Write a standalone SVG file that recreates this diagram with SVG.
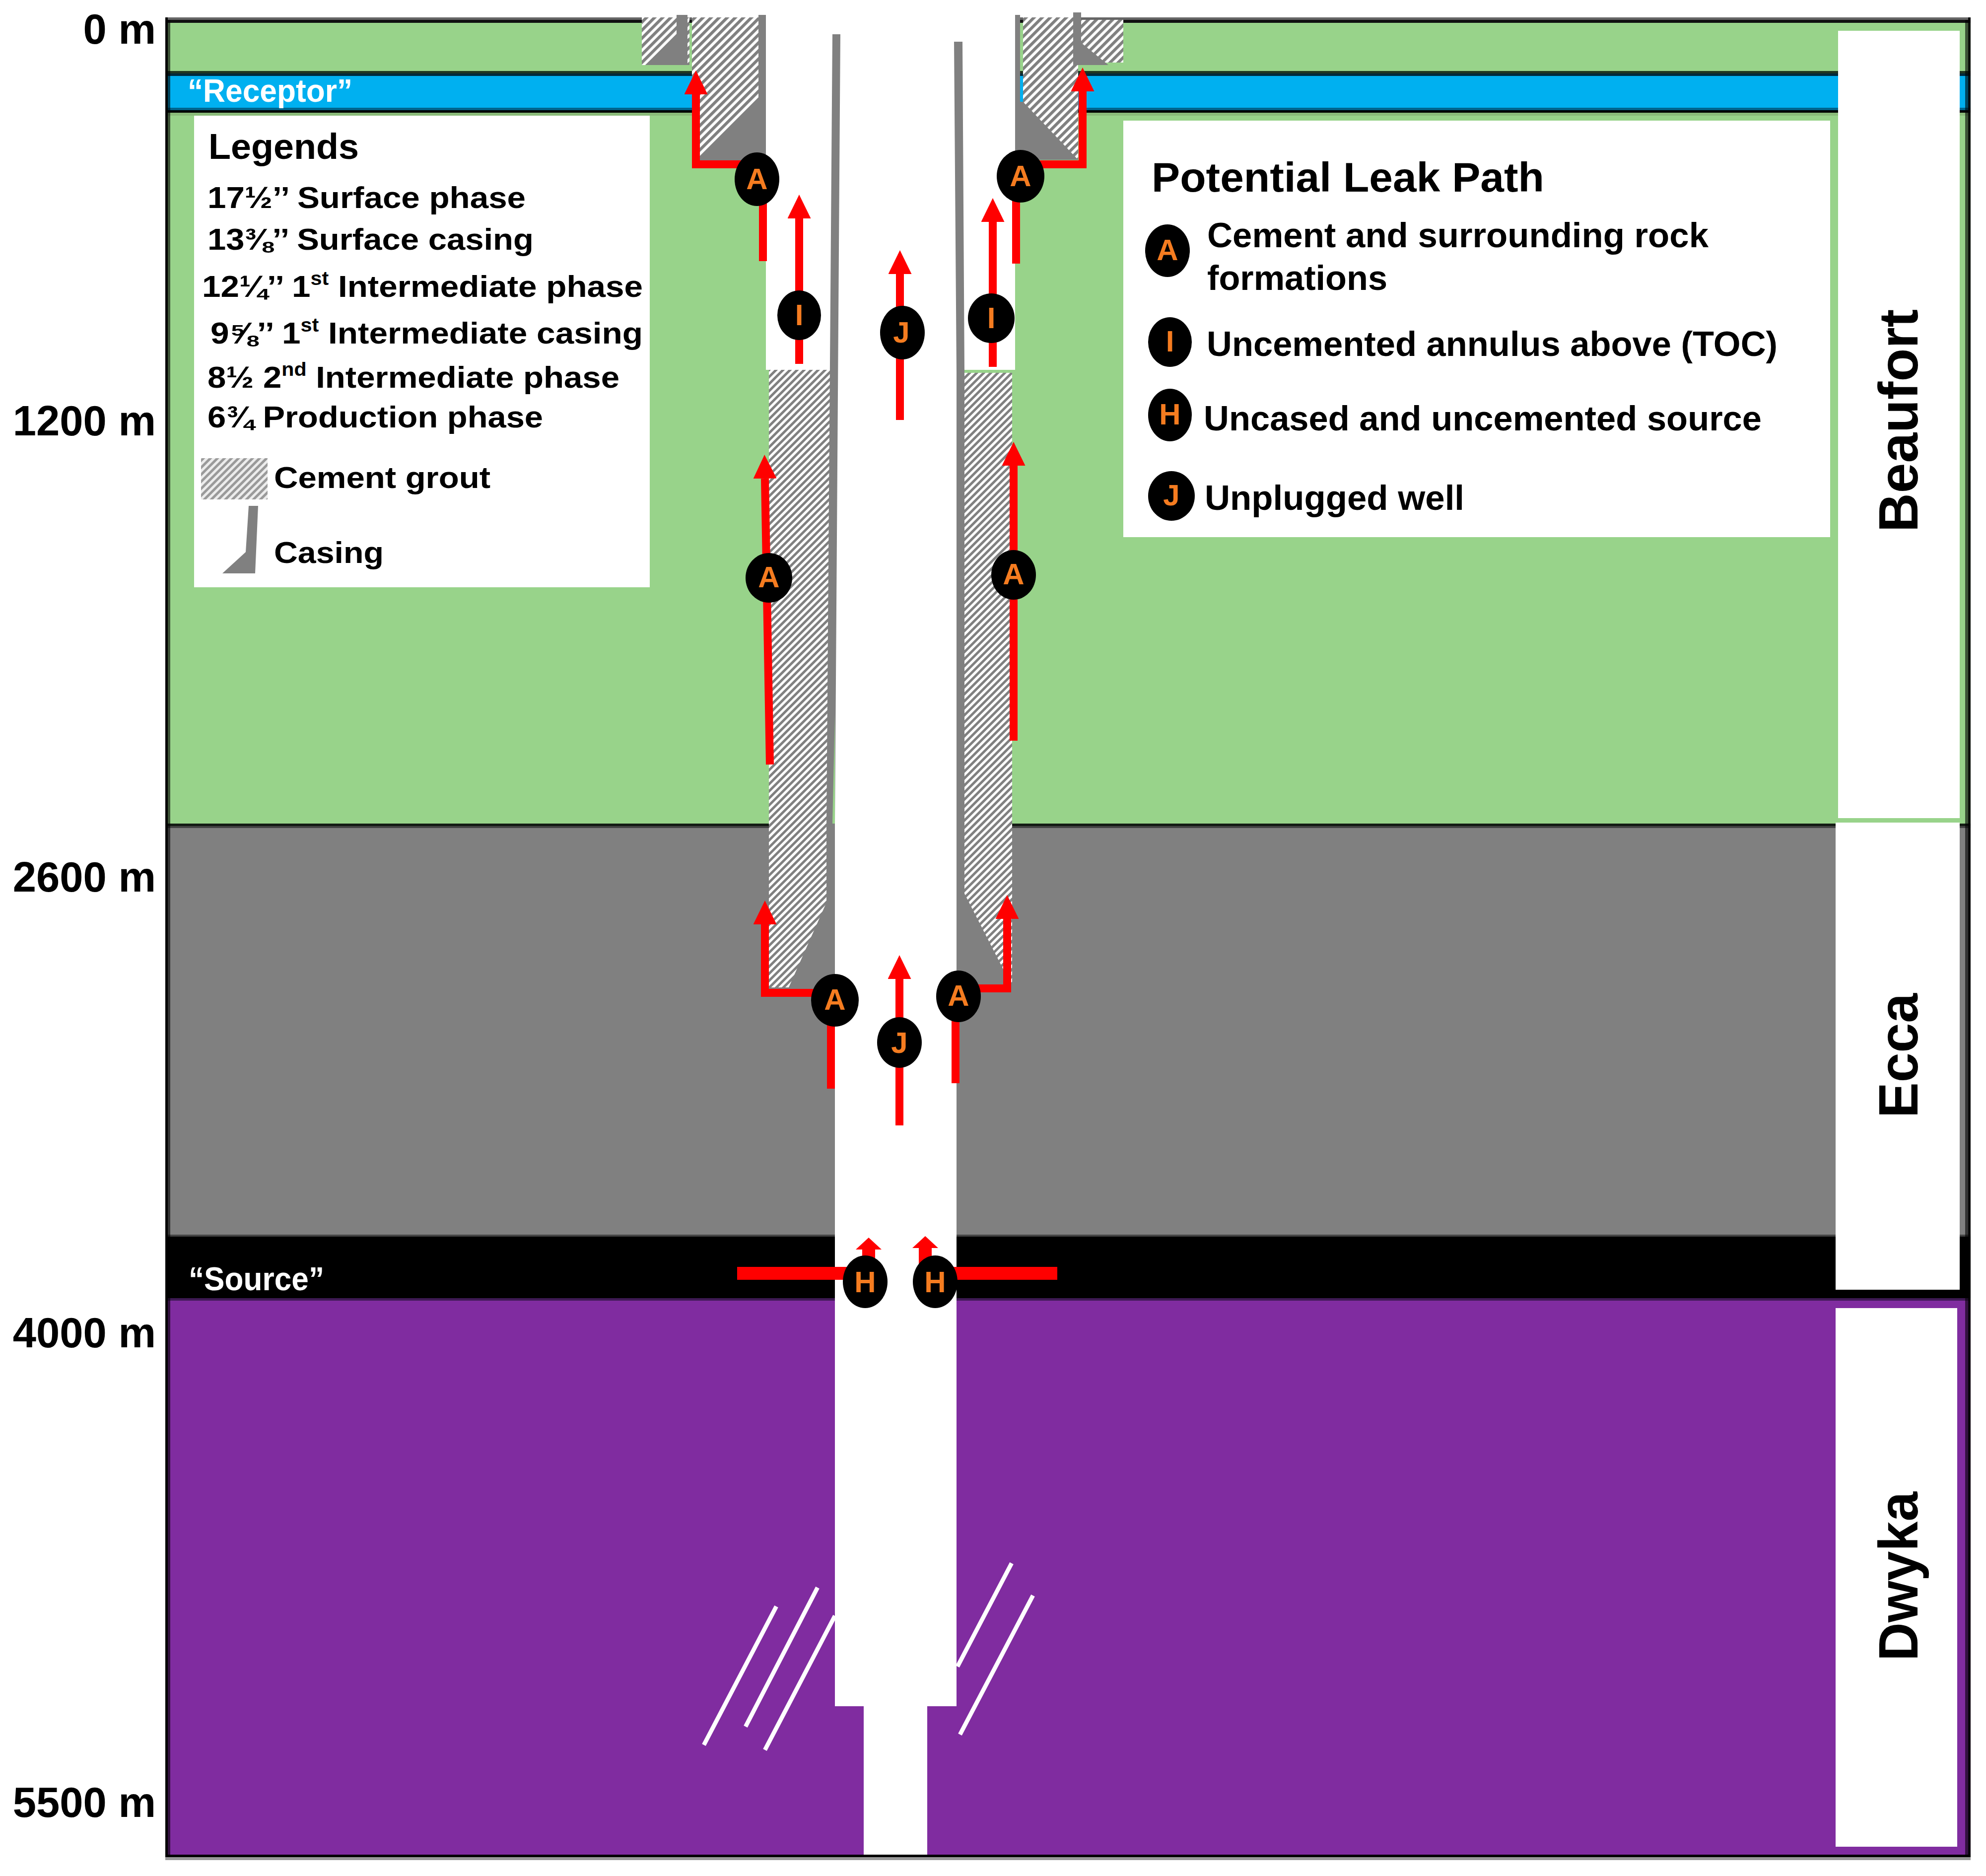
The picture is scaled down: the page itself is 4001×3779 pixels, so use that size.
<svg xmlns="http://www.w3.org/2000/svg" width="4001" height="3779" viewBox="0 0 4001 3779">
<style>
text{font-family:"Liberation Sans",Arial,sans-serif;font-weight:bold;fill:#000}
.depth{font-size:85px;text-anchor:end}
.leg{font-size:62px}
.row{font-size:70px}
.fm{font-size:112px}
.wh{fill:#fff}
.bl{fill:#000}
.bt{font-size:60px;fill:#f57c20;text-anchor:middle}
.gr{fill:#808080}
.hole{fill:#fff}
.cn{fill:none;stroke:#f00;stroke-width:16;stroke-linejoin:miter}
.up{marker-end:url(#head)}
.fat{stroke-width:26}
.upfat{marker-end:url(#headS)}
.frac{stroke:#fff;stroke-width:8.5;fill:none}
</style>
<defs>
<pattern id="hatchA" width="11.5" height="11.5" patternUnits="userSpaceOnUse" patternTransform="rotate(45)"><rect width="11.5" height="11.5" fill="#fff"/><rect width="6" height="11.5" fill="#808080"/></pattern>
<pattern id="hatchB" width="10" height="10" patternUnits="userSpaceOnUse" patternTransform="rotate(45)"><rect width="10" height="10" fill="#fff"/><rect width="5" height="10" fill="#808080"/></pattern>
<pattern id="hatchC" width="10" height="10" patternUnits="userSpaceOnUse" patternTransform="rotate(45)"><rect width="10" height="10" fill="#ececec"/><rect width="5" height="10" fill="#9a9a9a"/></pattern>
<marker id="head" markerUnits="userSpaceOnUse" markerWidth="48" markerHeight="47" viewBox="0 0 48 47" refX="0" refY="23.5" orient="auto"><path d="M0 0L48 23.5L0 47Z" fill="#f00"/></marker>
<marker id="headS" markerUnits="userSpaceOnUse" markerWidth="24" markerHeight="52" viewBox="0 0 24 52" refX="0" refY="26" orient="auto"><path d="M0 0L24 26L0 52Z" fill="#f00"/></marker>
</defs>
<rect width="4001" height="3779" fill="#fff"/>
<g id="strata">
<rect x="333" y="40" width="3637" height="1625" fill="#98d38a"/>
<rect x="333" y="148" width="3637" height="74" fill="#00b0f0"/>
<rect x="333" y="143" width="3637" height="5" fill="#1f3520"/>
<rect x="333" y="148" width="3637" height="5" fill="#002a3c"/>
<rect x="333" y="217" width="3637" height="5" fill="#00648c"/>
<rect x="333" y="222" width="3637" height="5" fill="#000"/>
<rect x="333" y="227" width="3637" height="6" fill="#8abb7a"/>
<rect x="333" y="1664" width="3637" height="825" fill="#808080"/>
<rect x="333" y="1659" width="3637" height="5" fill="#141c14"/>
<rect x="333" y="1664" width="3637" height="4" fill="#444"/>
<rect x="333" y="2487" width="3637" height="130" fill="#000"/>
<rect x="333" y="2487" width="3637" height="4" fill="#444"/>
<rect x="333" y="2615" width="3637" height="1122" fill="#802ca0"/>
<rect x="333" y="2615" width="3637" height="5" fill="#3f1a55"/>
<rect x="333" y="35" width="3637" height="5" fill="#666"/>
<rect x="333" y="40" width="3637" height="6" fill="#111"/>
<rect x="333" y="3736" width="3637" height="5" fill="#000"/>
<rect x="333" y="3741" width="3637" height="6" fill="#999"/>
<rect x="333" y="35" width="5" height="3706" fill="#000"/>
<rect x="338" y="40" width="5" height="3696" fill="#000" opacity=".6"/>
<rect x="3959" y="40" width="6" height="3696" fill="#000" opacity=".6"/>
<rect x="3965" y="35" width="5" height="3706" fill="#000" opacity=".92"/>
</g>
<g id="borehole">
<rect class="hole" x="1543" y="0" width="502" height="745"/>
<rect class="hole" x="1682" y="745" width="245" height="2692"/>
<rect class="hole" x="1740" y="3437" width="128" height="299"/>
</g>
<g id="fractures">
<path class="frac" d="M1418 3515L1564 3236M1502 3478L1647 3198M1541 3525L1682 3255M1929 3357L2038 3149M1934 3494L2081 3214"/>
</g>
<g id="cement">
<rect x="1293" y="35" width="96" height="96" fill="url(#hatchA)"/>
<rect x="1394" y="35" width="134" height="288" fill="url(#hatchA)"/>
<rect x="2061" y="35" width="111" height="287" fill="url(#hatchA)"/>
<rect x="2178" y="40" width="85" height="86" fill="url(#hatchA)"/>
<rect x="1549" y="745" width="126" height="1244" fill="url(#hatchB)"/>
<rect x="1943" y="751" width="96" height="1231" fill="url(#hatchB)"/>
</g>
<g id="casing">
<polygon class="gr" points="1363,30 1385,30 1385,131 1300,131 1363,70"/>
<polygon class="gr" points="1528,30 1543,30 1543,323 1402,323 1528,197"/>
<polygon class="gr" points="2045,30 2055,30 2055,205 2061,205 2172,322 2045,322"/>
<polygon class="gr" points="2162,25 2178,25 2178,86 2233,131 2162,131"/>
<polygon class="gr" points="1677,69 1693,69 1682,1660 1682,1818 1682,1989 1589,1989 1665,1818 1665,1660"/>
<polygon points="1682,1440 1682,1659 1677,1659" fill="#98d38a"/>
<polygon class="gr" points="1922,84 1939,84 1943,750 1943,1800 2025,1960 2025,1982 1927,1982 1927,750"/>
</g>
<g id="connectors">
<path class="cn up" d="M1525 331H1402V190"/>
<path class="cn" d="M1537 526V361"/>
<path class="cn up" d="M1610 733V440"/>
<path class="cn up" d="M1813 846V552"/>
<path class="cn up" d="M2000 739V447"/>
<path class="cn up" d="M2056 331H2181V184"/>
<path class="cn" d="M2047 531V355"/>
<path class="cn up" d="M1551 1540L1541 964"/>
<path class="cn up" d="M2042 1492V938"/>
<path class="cn up" d="M1682 2000H1541V1862"/>
<path class="cn" d="M1674 2193V2015"/>
<path class="cn up" d="M1931 1991H2029V1851"/>
<path class="cn" d="M1925 2182V2007"/>
<path class="cn up" d="M1812 2267V1972"/>
<path class="cn fat" d="M1485 2565H1743"/>
<path class="cn fat" d="M2130 2565H1882"/>
<path class="cn fat upfat" d="M1750 2582V2517"/>
<path class="cn fat upfat" d="M1864 2582V2514"/>
</g>
<g id="node-a1"><ellipse cx="1525" cy="361" rx="45" ry="54"/><text class="bt" x="1525" y="381">A</text></g>
<g id="node-a2"><ellipse cx="2056" cy="355" rx="48" ry="53"/><text class="bt" x="2056" y="375">A</text></g>
<g id="node-i1"><ellipse cx="1610" cy="635" rx="44" ry="50"/><text class="bt" x="1610" y="655">I</text></g>
<g id="node-i2"><ellipse cx="1997" cy="641" rx="47" ry="50"/><text class="bt" x="1997" y="661">I</text></g>
<g id="node-j1"><ellipse cx="1818" cy="670" rx="45" ry="54"/><text class="bt" x="1816" y="690">J</text></g>
<g id="node-a3"><ellipse cx="1549" cy="1164" rx="47" ry="50"/><text class="bt" x="1549" y="1183">A</text></g>
<g id="node-a4"><ellipse cx="2042" cy="1158" rx="45" ry="50"/><text class="bt" x="2042" y="1177">A</text></g>
<g id="node-a5"><ellipse cx="1682" cy="2015" rx="48" ry="53"/><text class="bt" x="1682" y="2034">A</text></g>
<g id="node-a6"><ellipse cx="1931" cy="2007" rx="45" ry="52"/><text class="bt" x="1931" y="2026">A</text></g>
<g id="node-j2"><ellipse cx="1812" cy="2100" rx="45" ry="51"/><text class="bt" x="1812" y="2121">J</text></g>
<g id="node-h1"><ellipse cx="1743" cy="2582" rx="45" ry="53"/><text class="bt" x="1743" y="2603">H</text></g>
<g id="node-h2"><ellipse cx="1884" cy="2582" rx="45" ry="53"/><text class="bt" x="1884" y="2603">H</text></g>
<g id="legend">
<rect x="391" y="233" width="918" height="950" fill="#fff"/>
<text x="420" y="320" style="font-size:72px" textLength="303" lengthAdjust="spacingAndGlyphs">Legends</text>
<text class="leg" x="418" y="419" textLength="641" lengthAdjust="spacingAndGlyphs">17½’’ Surface phase</text>
<text class="leg" x="418" y="503" textLength="657" lengthAdjust="spacingAndGlyphs">13⅜’’ Surface casing</text>
<text class="leg" x="407" y="598" textLength="888" lengthAdjust="spacingAndGlyphs">12¼’’ 1<tspan dy="-24" font-size="38">st</tspan><tspan dy="24"> Intermediate phase</tspan></text>
<text class="leg" x="424" y="692" textLength="871" lengthAdjust="spacingAndGlyphs">9⅝’’ 1<tspan dy="-24" font-size="38">st</tspan><tspan dy="24"> Intermediate casing</tspan></text>
<text class="leg" x="418" y="781" textLength="830" lengthAdjust="spacingAndGlyphs">8½ 2<tspan dy="-24" font-size="38">nd</tspan><tspan dy="24"> Intermediate phase</tspan></text>
<text class="leg" x="418" y="861" textLength="676" lengthAdjust="spacingAndGlyphs">6¾ Production phase</text>
<rect x="405" y="923" width="134" height="83" fill="url(#hatchC)"/>
<text class="leg" x="552" y="983" textLength="436" lengthAdjust="spacingAndGlyphs">Cement grout</text>
<polygon class="gr" points="501,1019 520,1019 514,1155 448,1155 495,1112"/>
<text class="leg" x="552" y="1134" textLength="221" lengthAdjust="spacingAndGlyphs">Casing</text>
</g>
<g id="leak-legend">
<rect x="2263" y="243" width="1424" height="839" fill="#fff"/>
<text x="2320" y="386" style="font-size:84px" textLength="791" lengthAdjust="spacingAndGlyphs">Potential Leak Path</text>
<g id="key-a"><ellipse cx="2352" cy="505" rx="45" ry="53"/><text class="bt" x="2352" y="524">A</text></g>
<text class="row" x="2432" y="498" textLength="1010" lengthAdjust="spacingAndGlyphs">Cement and surrounding rock</text>
<text class="row" x="2432" y="584" textLength="363" lengthAdjust="spacingAndGlyphs">formations</text>
<g id="key-i"><ellipse cx="2357" cy="689" rx="44" ry="50"/><text class="bt" x="2357" y="708">I</text></g>
<text class="row" x="2431" y="717" textLength="1150" lengthAdjust="spacingAndGlyphs">Uncemented annulus above (TOC)</text>
<g id="key-h"><ellipse cx="2357" cy="836" rx="44" ry="53"/><text class="bt" x="2357" y="855">H</text></g>
<text class="row" x="2425" y="867" textLength="1124" lengthAdjust="spacingAndGlyphs">Uncased and uncemented source</text>
<g id="key-j"><ellipse cx="2360" cy="999" rx="47" ry="50"/><text class="bt" x="2360" y="1018">J</text></g>
<text class="row" x="2427" y="1027" textLength="523" lengthAdjust="spacingAndGlyphs">Unplugged well</text>
</g>
<g id="formation-labels">
<rect x="3703" y="62" width="245" height="1586" fill="#fff"/>
<rect x="3698" y="1657" width="250" height="941" fill="#fff"/>
<rect x="3698" y="2635" width="245" height="1085" fill="#fff"/>
<text class="fm" transform="translate(3863 1072) rotate(-90)" textLength="449" lengthAdjust="spacingAndGlyphs">Beaufort</text>
<text class="fm" transform="translate(3863 2252) rotate(-90)" textLength="251" lengthAdjust="spacingAndGlyphs">Ecca</text>
<text class="fm" transform="translate(3863 3346) rotate(-90)" textLength="341" lengthAdjust="spacingAndGlyphs">Dwyka</text>
</g>
<g id="band-labels">
<text class="wh" x="378" y="205" style="font-size:64px" textLength="332" lengthAdjust="spacingAndGlyphs">“Receptor”</text>
<text class="wh" x="380" y="2599" style="font-size:66px" textLength="273" lengthAdjust="spacingAndGlyphs">“Source”</text>
</g>
<g id="depths">
<text class="depth" x="314" y="88">0 m</text>
<text class="depth" x="314" y="877">1200 m</text>
<text class="depth" x="314" y="1796">2600 m</text>
<text class="depth" x="314" y="2714">4000 m</text>
<text class="depth" x="314" y="3660">5500 m</text>
</g>
</svg>
